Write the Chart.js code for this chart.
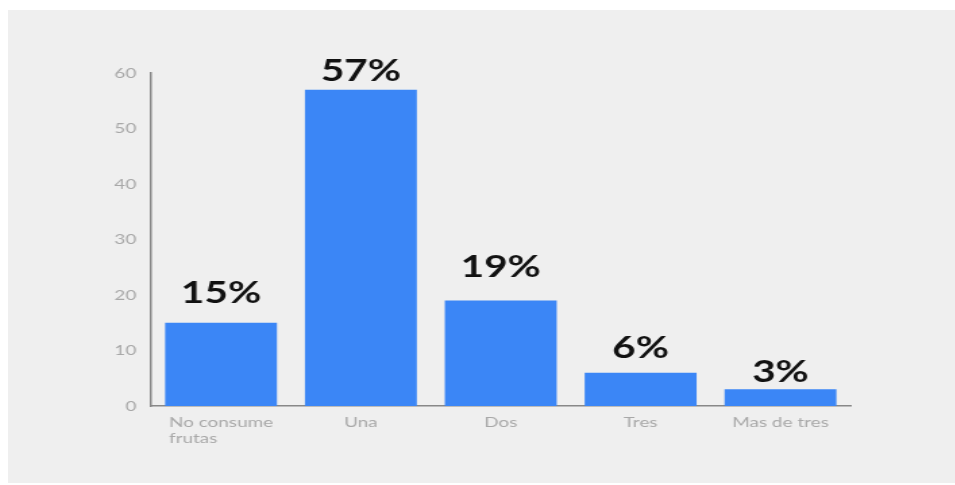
<!DOCTYPE html>
<html>
<head>
<meta charset="utf-8">
<script src="https://cdn.jsdelivr.net/npm/chart.js@4/dist/chart.umd.min.js"></script>
<style>
  html, body { margin: 0; padding: 0; background: #ffffff; }
  #wrap {
    position: absolute; left: 8px; top: 10px;
    width: 947px; height: 473px;
    background: #efefef;
    overflow: hidden;
  }
  /* the chart is laid out narrow and widened, giving the broad lettering */
  #stretch {
    width: 701px; height: 473px;
    transform: scaleX(1.35);
    transform-origin: 0 0;
  }
</style>
</head>
<body>
<div id="wrap"><div id="stretch"><canvas id="fruitChart"></canvas></div></div>
<script>
const categories = [['No consume', 'frutas'], 'Una', 'Dos', 'Tres', 'Mas de tres'];
const percentages = [15, 57, 19, 6, 3];
const yTicks = [0, 10, 20, 30, 40, 50, 60];

// how far each percent label sits above its bar
const labelLift = [20, 9, 24, 15, 7];

const barLabels = {
    id: 'barLabels',
    afterDatasetsDraw(chart) {
        const ctx = chart.ctx;
        const meta = chart.getDatasetMeta(0);
        ctx.save();
        ctx.font = 'bold 30px Lato';
        ctx.fillStyle = '#111111';
        ctx.textAlign = 'center';
        ctx.textBaseline = 'alphabetic';
        meta.data.forEach((bar, i) => {
            ctx.fillText(percentages[i] + '%', bar.x, bar.y - labelLift[i]);
        });
        ctx.restore();
    }
};

// category names, with wrapped lines sharing one left edge
const categoryLabels = {
    id: 'categoryLabels',
    afterDraw(chart) {
        const ctx = chart.ctx;
        const xs = chart.scales.x;
        ctx.save();
        ctx.font = '14px Lato';
        ctx.fillStyle = '#a8a8a8';
        ctx.textAlign = 'left';
        ctx.textBaseline = 'middle';
        categories.forEach((label, i) => {
            const lines = Array.isArray(label) ? label : [label];
            const w = Math.max(...lines.map(l => ctx.measureText(l).width));
            const left = xs.getPixelForTick(i) - w / 2;
            lines.forEach((line, j) => {
                ctx.fillText(line, left, xs.top + 16 + j * 16);
            });
        });
        ctx.restore();
    }
};

const ctx = document.getElementById('fruitChart').getContext('2d');
const fruitChart = new Chart(ctx, {
    type: 'bar',
    data: {
        labels: categories,
        datasets: [{
            data: percentages,
            backgroundColor: '#3b86f6',
            barPercentage: 0.8,
            categoryPercentage: 1.0
        }]
    },
    options: {
        responsive: true,
        maintainAspectRatio: false,
        animation: false,
        layout: { padding: { left: 0, right: 77, top: 63, bottom: 0 } },
        plugins: {
            legend: { display: false },
            tooltip: { enabled: false }
        },
        scales: {
            x: {
                grid: { display: false },
                border: { display: true, color: '#888888', width: 1.5 },
                ticks: {
                    color: 'rgba(0,0,0,0)',
                    font: { family: 'Lato', size: 14 },
                    maxRotation: 0,
                    autoSkip: false
                },
                afterFit(scale) { scale.height = 77; }
            },
            y: {
                min: 0,
                max: 60,
                afterBuildTicks(scale) {
                    scale.ticks = yTicks.map(v => ({ value: v }));
                },
                grid: { display: false },
                border: { display: true, color: '#888888', width: 1.5 },
                ticks: {
                    color: '#a8a8a8',
                    font: { family: 'Lato', size: 14 },
                    padding: 3
                },
                afterFit(scale) { scale.width = 106; }
            }
        }
    },
    plugins: [barLabels, categoryLabels]
});
</script>
</body>
</html>
